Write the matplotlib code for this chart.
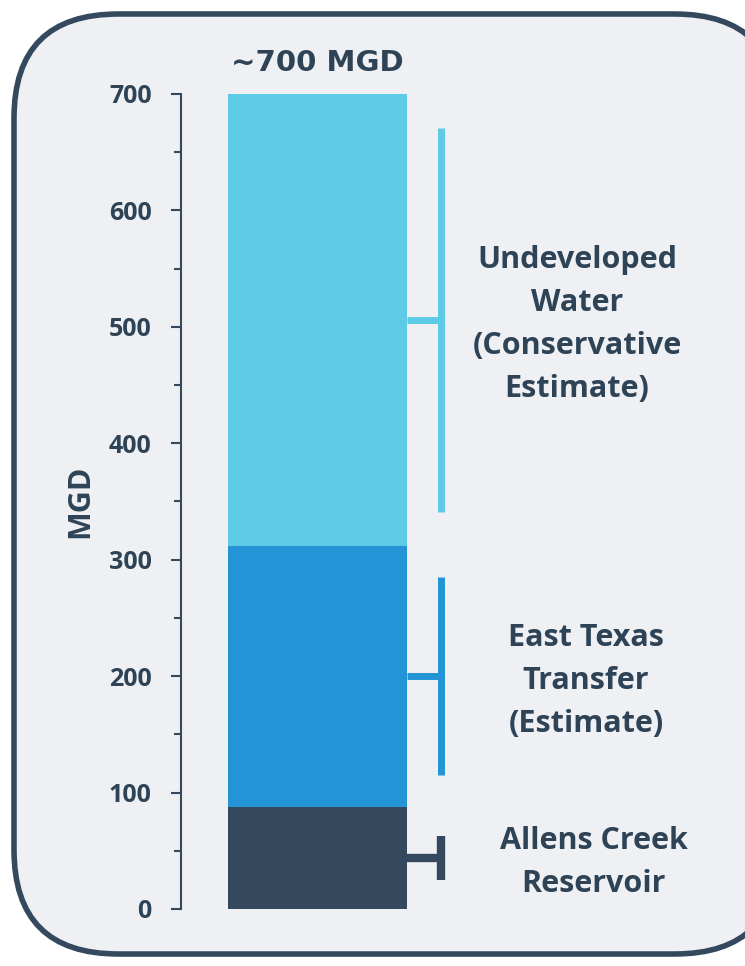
import matplotlib.pyplot as plt
from matplotlib.patches import FancyBboxPatch

# stacked supply sources, bottom to top (MGD)
sources = ['Allens Creek\nReservoir', 'East Texas\nTransfer\n(Estimate)',
           'Undeveloped\nWater\n(Conservative\nEstimate)']
supply = [88, 224, 388]
total_label = '~700 MGD'

colors = ['#34495E', '#2394D6', '#5ECBE6']
text_color = '#2E4356'
bg_color = '#EEF0F3'

# bracket half-heights and label x positions (axes x units)
bracket_half = [19, 85, 165]
label_x = [0.732, 0.718, 0.702]

W, H = 745, 966
fig = plt.figure(figsize=(W / 100, H / 100), dpi=100)
fig.patch.set_facecolor('white')

frame = FancyBboxPatch((14 / W, 12 / H), (W + 20) / W, (H - 26) / H,
                       boxstyle='round,pad=0,rounding_size=0.14',
                       mutation_aspect=W / H,
                       transform=fig.transFigure, zorder=0,
                       facecolor=bg_color, edgecolor='#34495E', linewidth=4)
fig.patches.append(frame)

ax = fig.add_axes([181 / W, 57 / H, (W - 181) / W, 815 / H])
ax.set_zorder(2)
ax.set_facecolor('none')
ax.set_xlim(0, 1)
ax.set_ylim(0, 700)

bar_x = 0.242
bar_w = 0.317
bracket_x = 0.461

bottom = 0
for val, col, half, lx, name in zip(supply, colors, bracket_half, label_x, sources):
    ax.bar(bar_x, val, bottom=bottom, width=bar_w, color=col, linewidth=0)
    mid = bottom + val / 2
    lw = 6 if half < 30 else 5
    ax.plot([bar_x + bar_w / 2, bracket_x], [mid, mid], color=col, lw=lw,
            solid_capstyle='butt')
    ax.plot([bracket_x, bracket_x], [mid - half, mid + half], color=col, lw=lw,
            solid_capstyle='butt')
    ax.annotate(name, (lx, mid), xytext=(0, -3.5), textcoords='offset points',
                ha='center', va='center', fontsize=22, fontweight='bold',
                color=text_color, family='Open Sans', linespacing=1.57)
    bottom += val

ax.annotate(total_label, (bar_x, sum(supply)), xytext=(0, 22),
            textcoords='offset points', ha='center', va='center',
            fontsize=21, fontweight='bold', color=text_color,
            family='DejaVu Sans')

for side in ['top', 'right', 'bottom']:
    ax.spines[side].set_visible(False)
ax.spines['left'].set_color('#34495E')
ax.spines['left'].set_linewidth(1.5)
ax.set_xticks([])
ax.set_yticks(range(0, 701, 100))
ax.set_yticks(range(50, 701, 100), minor=True)
ax.tick_params(axis='y', which='major', length=7, width=1.5, color='#34495E',
               pad=14, labelsize=18, labelcolor=text_color)
ax.tick_params(axis='y', which='minor', length=5, width=1.5, color='#34495E')
for t in ax.get_yticklabels():
    t.set_fontweight('bold')
    t.set_family('Open Sans')

ax.set_ylabel('MGD', fontsize=22, fontweight='bold', color=text_color,
              family='Open Sans', labelpad=10)

fig.savefig('out.png', dpi=100, facecolor='white')
